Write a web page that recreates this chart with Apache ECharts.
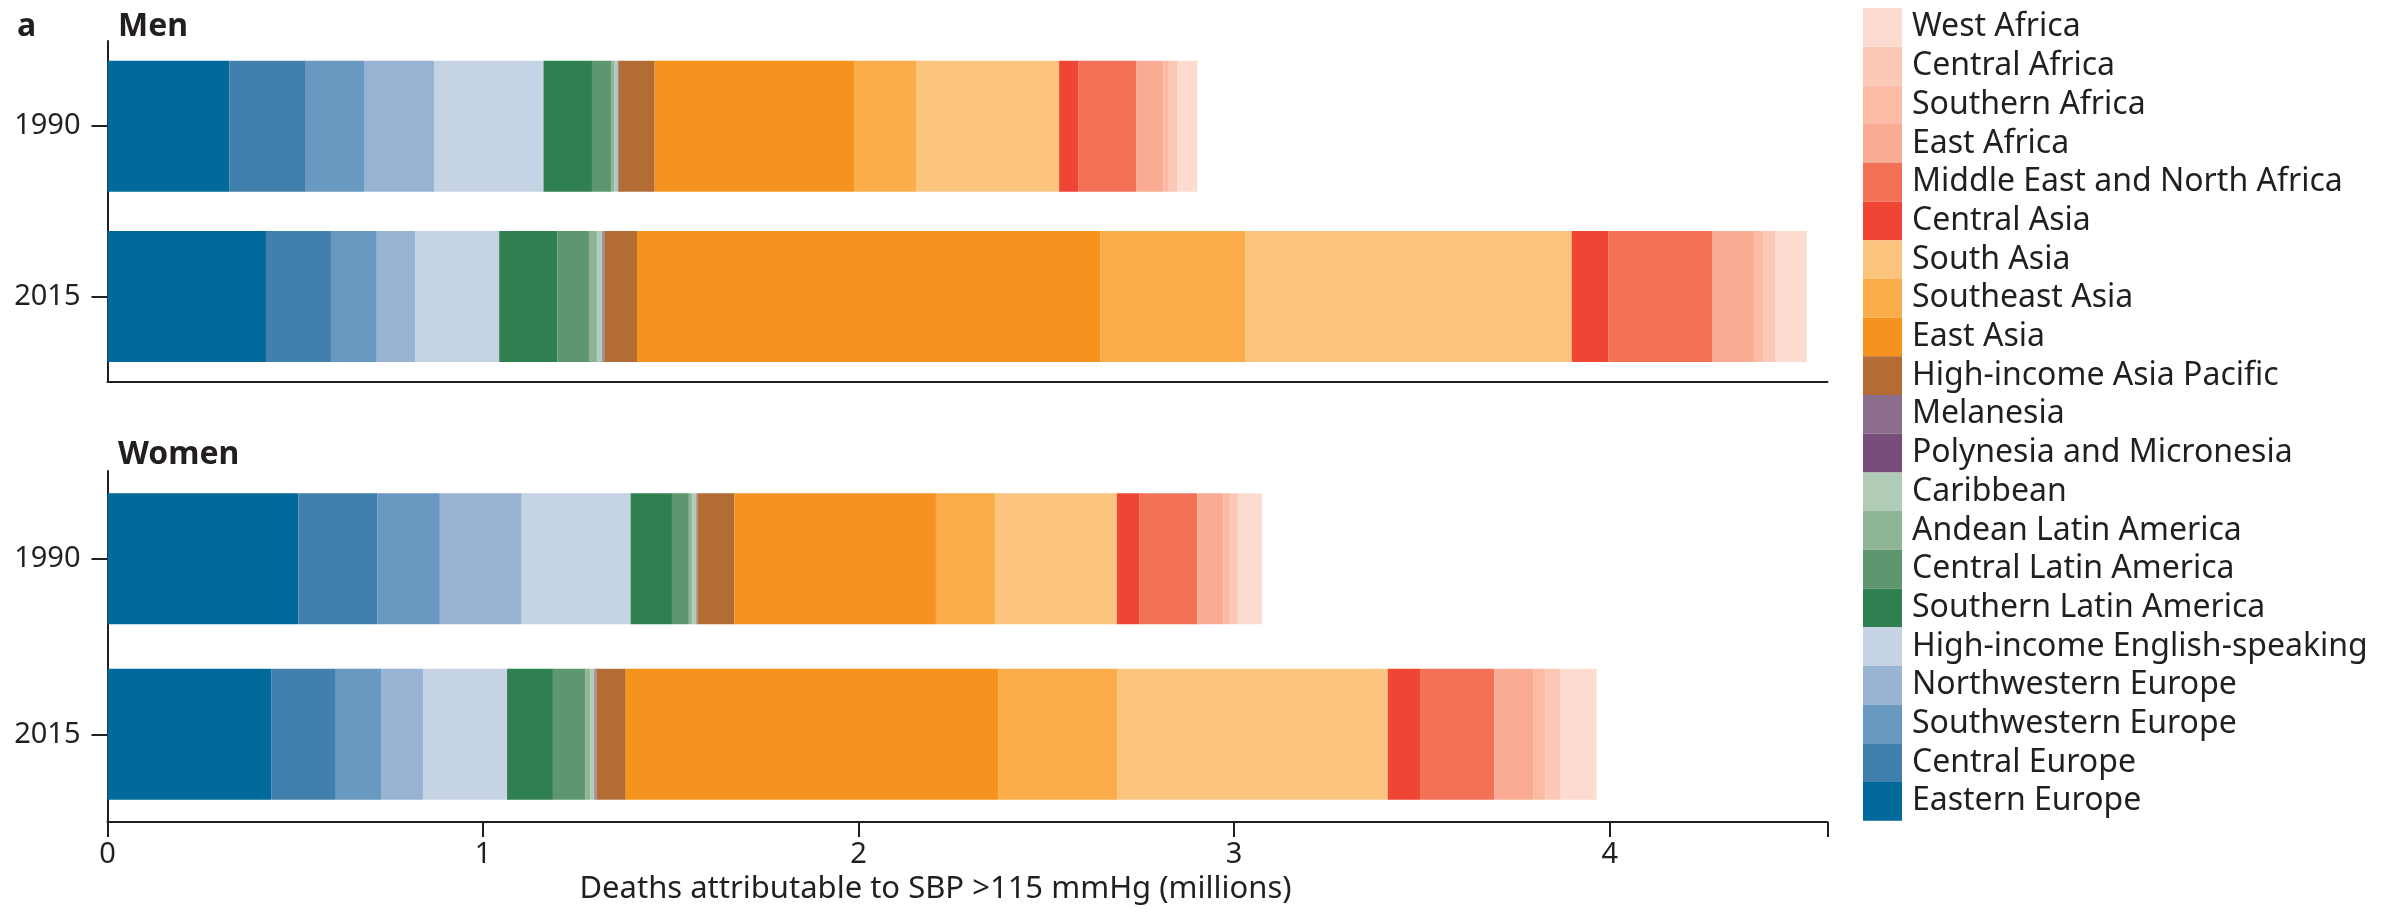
<!DOCTYPE html>
<html><head><meta charset="utf-8">
<script src="https://cdn.jsdelivr.net/npm/echarts@6/dist/echarts.min.js"></script>
<style>html,body{margin:0;padding:0;background:#fff}#c{width:2392px;height:912px}</style>
</head><body><div id="c"></div>
<script>
// Categories (bars) and regions (stack order, left to right)
const years = ['1990', '2015'];
const regions = [
  'Eastern Europe', 'Central Europe', 'Southwestern Europe', 'Northwestern Europe',
  'High-income English-speaking', 'Southern Latin America', 'Central Latin America',
  'Andean Latin America', 'Caribbean', 'Polynesia and Micronesia', 'Melanesia',
  'High-income Asia Pacific', 'East Asia', 'Southeast Asia', 'South Asia', 'Central Asia',
  'Middle East and North Africa', 'East Africa', 'Southern Africa', 'Central Africa', 'West Africa'
];
const regionColors = [
  '#02699b', '#4180ad', '#6998c0', '#98b4d2',
  '#c6d3e4', '#2f7f50', '#5e9670',
  '#8eb596', '#b0cbb6', '#794d7a', '#8d6d8e',
  '#b36c33', '#f6931f', '#faad4a', '#fbc57f', '#ef4534',
  '#f37257', '#f9ab93', '#fbbba5', '#fcc9b7', '#fddbd0'
];
// Deaths attributable to SBP >115 mmHg (millions), per region, in stack order
const men1990   = [0.324, 0.204, 0.157, 0.186, 0.290, 0.129, 0.051, 0.009, 0.009, 0.001, 0.002, 0.095, 0.531, 0.165, 0.381, 0.052, 0.154, 0.072, 0.014, 0.022, 0.054];
const men2015   = [0.422, 0.173, 0.122, 0.102, 0.224, 0.155, 0.084, 0.022, 0.014, 0.002, 0.004, 0.086, 1.233, 0.386, 0.870, 0.097, 0.278, 0.110, 0.026, 0.032, 0.083];
const women1990 = [0.508, 0.210, 0.167, 0.218, 0.290, 0.110, 0.045, 0.010, 0.010, 0.001, 0.002, 0.098, 0.537, 0.159, 0.323, 0.059, 0.155, 0.069, 0.019, 0.020, 0.064];
const women2015 = [0.437, 0.171, 0.122, 0.110, 0.224, 0.122, 0.086, 0.014, 0.011, 0.002, 0.003, 0.078, 0.993, 0.315, 0.721, 0.086, 0.198, 0.103, 0.033, 0.039, 0.097];
const xTicks = [0, 1, 2, 3, 4];
const xMax = 4.58;

const INK = '#231f20';
const FONT = 'Noto Sans';

const chart = echarts.init(document.getElementById('c'), null, {renderer: 'canvas'});

const series = [];
regions.forEach((r, i) => {
  series.push({
    type: 'bar', name: r, stack: 'men', xAxisIndex: 0, yAxisIndex: 0,
    barWidth: 131, data: [men1990[i], men2015[i]],
    itemStyle: {color: regionColors[i]}, emphasis: {disabled: true}, silent: true
  });
  series.push({
    type: 'bar', name: r, stack: 'women', xAxisIndex: 1, yAxisIndex: 1,
    barWidth: 131, data: [women1990[i], women2015[i]],
    itemStyle: {color: regionColors[i]}, emphasis: {disabled: true}, silent: true
  });
});

const xAxisBase = {
  type: 'value', min: 0, max: xMax, interval: 1,
  splitLine: {show: false},
  axisLine: {show: true, onZero: false, lineStyle: {color: INK, width: 2}}
};

chart.setOption({
  animation: false,
  backgroundColor: '#ffffff',
  textStyle: {fontFamily: FONT, color: INK},
  grid: [
    {left: 107.5, width: 1720, top: 41, height: 340.7, outerBoundsMode: 'none', containLabel: false},
    {left: 107.5, width: 1720, top: 471, height: 351, outerBoundsMode: 'none', containLabel: false}
  ],
  xAxis: [
    Object.assign({}, xAxisBase, {gridIndex: 0, axisTick: {show: false}, axisLabel: {show: false}}),
    Object.assign({}, xAxisBase, {
      gridIndex: 1,
      axisTick: {show: true, length: 15, lineStyle: {color: INK, width: 2}},
      axisLabel: {show: true, margin: 18, fontSize: 29, fontFamily: FONT, color: INK,
        formatter: v => (xTicks.indexOf(v) >= 0 ? String(v) : '')},
      name: 'Deaths attributable to SBP >115 mmHg (millions)',
      nameLocation: 'middle', nameGap: 52,
      nameTextStyle: {fontSize: 31, fontFamily: FONT, color: INK, padding: [0, 64, 0, 0]}
    })
  ],
  yAxis: [0, 1].map(g => ({
    type: 'category', gridIndex: g, data: years, inverse: true,
    axisLine: {show: true, lineStyle: {color: INK, width: 2}},
    axisTick: {show: true, alignWithLabel: true, length: 16, lineStyle: {color: INK, width: 2}},
    axisLabel: {margin: 27, fontSize: 29, fontFamily: FONT, color: INK},
    splitLine: {show: false}
  })),
  legend: {
    orient: 'vertical', left: 1863, top: 8, padding: 0,
    itemWidth: 39, itemHeight: 38.7, itemGap: 0, icon: 'rect',
    selectedMode: false,
    data: regions.slice().reverse(),
    textStyle: {fontSize: 32, fontFamily: FONT, color: INK, lineHeight: 33, padding: [5, 0, 0, 5]}
  },
  graphic: [
    {type: 'text', left: 17, top: 11, style: {text: 'a', font: 'bold 32px "Noto Sans"', fill: INK}},
    {type: 'text', left: 118, top: 11, style: {text: 'Men', font: 'bold 32px "Noto Sans"', fill: INK}},
    {type: 'text', left: 118, top: 439, style: {text: 'Women', font: 'bold 32px "Noto Sans"', fill: INK}}
  ],
  series: series
});
</script>
</body></html>
